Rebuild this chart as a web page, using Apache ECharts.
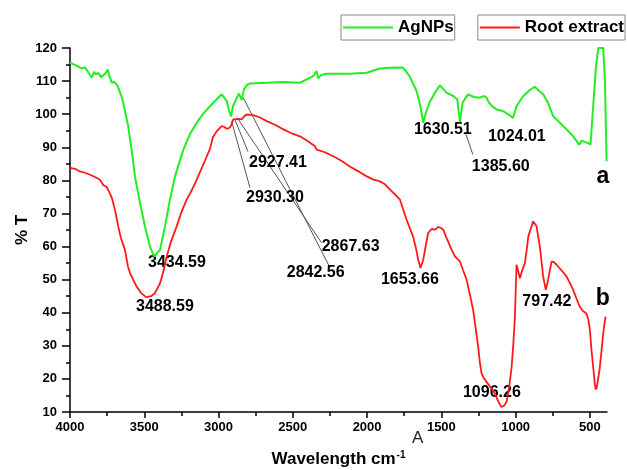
<!DOCTYPE html>
<html>
<head>
<meta charset="utf-8">
<script src="https://cdn.jsdelivr.net/npm/echarts@6/dist/echarts.min.js"></script>
<style>
  html, body { margin: 0; padding: 0; background: #fff; }
  #main { width: 627px; height: 470px; }
</style>
</head>
<body>
<div id="main"></div>
<script>
// AgNPs spectrum (curve a): wavenumber / %T
const agWave = [4000, 3973, 3944, 3919, 3899, 3879, 3854, 3838, 3825, 3810, 3791, 3778, 3764, 3746, 3734, 3719, 3704, 3686, 3674, 3663,
  3650, 3641, 3630, 3608, 3596, 3585, 3563, 3529, 3495, 3462, 3434, 3394, 3361, 3327, 3293, 3237, 3192, 3147, 3105, 3058,
  3017, 2979, 2968, 2945, 2929, 2916, 2903, 2878, 2863, 2844, 2829, 2809, 2789, 2676, 2567, 2452, 2363, 2340, 2329, 2311,
  2272, 2116, 2003, 1914, 1846, 1779, 1757, 1739, 1712, 1667, 1644, 1622, 1604, 1577, 1543, 1510, 1465, 1420, 1393, 1375,
  1357, 1320, 1281, 1241, 1214, 1196, 1185, 1160, 1128, 1084, 1052, 1017, 994, 949, 904, 871, 837, 815, 783, 747,
  702, 657, 613, 572, 554, 541, 527, 512, 496, 478, 460, 444, 411, 399, 388]
const agT = [115.6, 115.0, 114.4, 113.8, 114.2, 112.8, 111.0, 112.8, 112.0, 112.5, 111.2, 111.0, 112.2, 113.5, 111.5, 109.5, 109.8, 109.0, 108.0, 106.5,
  105.0, 104.5, 101.0, 96.4, 92.3, 89.3, 81.2, 73.2, 66.0, 60.0, 57.0, 59.0, 66.0, 74.2, 81.2, 89.3, 94.0, 97.4, 100.0, 102.4,
  104.3, 106.0, 106.3, 104.0, 101.0, 99.3, 102.4, 104.8, 106.2, 104.3, 107.5, 108.8, 109.3, 109.5, 109.7, 109.5, 111.5, 113.0, 110.8, 111.8,
  112.2, 112.2, 112.5, 113.8, 114.0, 114.1, 114.0, 113.0, 111.3, 107.0, 103.0, 97.4, 100.5, 103.8, 106.5, 108.7, 106.5, 105.5, 104.5, 97.6,
  103.5, 106.0, 105.2, 105.0, 105.5, 105.0, 103.9, 102.5, 101.4, 100.9, 100.0, 98.9, 102.4, 105.5, 107.3, 108.3, 106.8, 106.0, 103.5, 99.4,
  97.4, 95.4, 93.3, 90.8, 92.0, 92.5, 91.5, 91.3, 90.8, 102.4, 114.0, 120, 120, 110.5, 85.8]

// Root extract spectrum (curve b)
const rootWave = [4000, 3966, 3933, 3899, 3865, 3832, 3798, 3776, 3753, 3731, 3717, 3697, 3675, 3657, 3630, 3610, 3596, 3574, 3551, 3522,
  3488, 3455, 3428, 3394, 3374, 3349, 3320, 3282, 3253, 3215, 3192, 3159, 3125, 3091, 3058, 3038, 3013, 2979, 2964, 2945,
  2930, 2916, 2901, 2867, 2844, 2829, 2811, 2766, 2721, 2676, 2620, 2564, 2512, 2452, 2398, 2351, 2340, 2328, 2284, 2228,
  2176, 2116, 2062, 2003, 1961, 1914, 1880, 1846, 1813, 1779, 1759, 1734, 1712, 1690, 1671, 1656, 1640, 1622, 1604, 1589,
  1566, 1543, 1521, 1503, 1487, 1469, 1454, 1436, 1409, 1375, 1355, 1330, 1308, 1286, 1268, 1252, 1241, 1229, 1214, 1196,
  1174, 1140, 1120, 1096, 1080, 1061, 1045, 1027, 1015, 1005, 994, 985, 971, 958, 938, 924, 915, 897, 882, 870,
  859, 850, 837, 823, 815, 797, 781, 769, 758, 742, 724, 702, 681, 657, 635, 613, 588, 568, 547, 523,
  511, 500, 490, 478, 467, 462, 453, 443, 433, 423, 415, 406, 399, 394]
const rootT = [83.8, 83.5, 82.7, 82.3, 81.7, 81.0, 80.2, 78.6, 78.0, 76.0, 74.5, 71.0, 66.0, 62.5, 59.0, 54.0, 52.0, 49.9, 47.9, 46.0,
  44.7, 45.0, 45.9, 48.9, 52.0, 57.0, 61.5, 66.1, 70.0, 74.2, 76.0, 79.0, 82.5, 86.0, 89.5, 93.0, 94.8, 96.4, 96.2, 95.6,
  95.8, 96.5, 98.4, 98.6, 98.4, 99.3, 99.9, 99.7, 99.0, 97.9, 96.8, 95.4, 94.3, 93.3, 91.8, 90.3, 89.3, 89.8, 88.5, 87.3,
  86.0, 84.2, 82.8, 81.2, 80.3, 79.7, 78.8, 77.2, 75.8, 74.2, 71.5, 68.1, 65.5, 63.0, 59.5, 56.0, 53.5, 56.0, 60.5, 64.1,
  65.3, 65.1, 65.9, 65.6, 65.1, 63.0, 61.5, 59.5, 57.0, 55.5, 53.0, 50.0, 45.5, 40.8, 35.0, 29.7, 25.0, 21.6, 20.2, 19.1,
  17.8, 15.6, 13.5, 11.5, 11.8, 13.0, 17.0, 23.6, 31.0, 38.8, 54.5, 53.0, 50.4, 52.5, 55.0, 59.5, 63.0, 65.5, 67.6, 67.3,
  66.1, 63.5, 60.0, 54.5, 50.9, 46.9, 50.0, 53.0, 55.5, 55.3, 54.5, 53.3, 52.3, 50.9, 49.0, 46.9, 44.0, 41.8, 40.5, 39.8,
  38.0, 34.8, 29.0, 23.6, 18.5, 16.8, 17.5, 20.5, 23.6, 28.0, 31.7, 35.5, 37.5, 38.8]

// peak labels and where they sit (data coords)
const peakText = ['3434.59', '3488.59', '2927.41', '2930.30', '2867.63', '2842.56', '1653.66', '1630.51', '1385.60', '1024.01', '1096.26', '797.42', 'a', 'b']
const peakWave = [3280, 3361, 2600, 2620, 2111, 2346, 1712, 1490, 1100, 992, 1160, 790, 413, 413]
const peakT = [55, 41.8, 85.4, 74.8, 60, 52, 50, 95.4, 84.1, 93.3, 15.8, 43.3, 81.1, 44.4]

// leader lines: [fromWave, fromT, toWave, toT]
const leaders = [
  [2912, 97.9, 2789, 77.8],
  [2890, 98.4, 2802, 88.7],
  [2867, 98.4, 2306, 61.1],
  [2834, 105, 2250, 53.6],
  [1335, 93.9, 1288, 87.8]
]

const xMajor = [4000, 3500, 3000, 2500, 2000, 1500, 1000, 500]
const xMinor = [3750, 3250, 2750, 2250, 1750, 1250, 750]

const zip = (a, b) => a.map((v, i) => [v, b[i]])
const font = 'Liberation Sans, Arial, sans-serif'

const chart = echarts.init(document.getElementById('main'))
chart.setOption({
  animation: false,
  backgroundColor: '#fff',
  grid: { left: 70, right: 20, top: 48, bottom: 58, containLabel: false, outerBoundsMode: 'none' },
  legend: [
    {
      data: ['AgNPs'], left: 341, top: 15,
      icon: 'rect', itemWidth: 50, itemHeight: 2, padding: [4, 1, 4, 2],
      borderColor: '#888', borderWidth: 1, backgroundColor: '#fff',
      textStyle: { fontFamily: font, fontWeight: 'bold', fontSize: 17, color: '#000' }
    },
    {
      data: ['Root extract'], right: 2, top: 15,
      icon: 'rect', itemWidth: 40, itemHeight: 2, padding: [4, 1, 4, 2],
      borderColor: '#888', borderWidth: 1, backgroundColor: '#fff',
      textStyle: { fontFamily: font, fontWeight: 'bold', fontSize: 17, color: '#000' }
    }
  ],
  xAxis: [
    {
      type: 'value', inverse: true, min: 385, max: 4000,
      name: '{a|Wavelength cm}{b|-1}', nameLocation: 'middle', nameGap: 38, nameMoveOverlap: false,
      nameTextStyle: {
        rich: {
          a: { fontFamily: font, fontWeight: 'bold', fontSize: 17, color: '#000' },
          b: { fontFamily: font, fontWeight: 'bold', fontSize: 10, color: '#000', padding: [0, 0, 9, 1] }
        }
      },
      axisLine: { lineStyle: { color: '#000', width: 1.5 } },
      axisTick: { customValues: xMajor, length: 6, lineStyle: { color: '#000', width: 1.5 } },
      axisLabel: {
        customValues: xMajor, margin: 9, formatter: v => String(v),
        fontFamily: font, fontWeight: 'bold', fontSize: 13, color: '#000'
      },
      splitLine: { show: false }
    },
    {
      type: 'value', inverse: true, min: 385, max: 4000, position: 'bottom',
      axisLine: { show: true, lineStyle: { color: 'rgba(0,0,0,0)' } },
      axisTick: { show: true, customValues: xMinor, length: 4, lineStyle: { color: '#000', width: 1.5 } },
      axisLabel: { show: false },
      splitLine: { show: false }
    }
  ],
  yAxis: {
    type: 'value', min: 10, max: 120, interval: 10,
    name: '% T', nameLocation: 'middle', nameGap: 39, nameRotate: 90, nameMoveOverlap: false,
    nameTextStyle: { fontFamily: font, fontWeight: 'bold', fontSize: 17, color: '#000' },
    axisLine: { show: true, lineStyle: { color: '#000', width: 1.5 } },
    axisTick: { length: 8, lineStyle: { color: '#000', width: 1.5 } },
    minorTick: { show: true, splitNumber: 2, length: 4, lineStyle: { color: '#000', width: 1.5 } },
    axisLabel: { margin: 13, fontFamily: font, fontWeight: 'bold', fontSize: 13, color: '#000' },
    splitLine: { show: false }
  },
  graphic: [
    { type: 'text', left: 412, top: 430, style: { text: 'A', font: '17px ' + font, fill: '#222' } }
  ],
  series: [
    {
      name: 'AgNPs', type: 'line', data: zip(agWave, agT), showSymbol: false,
      lineStyle: { color: '#22ee22', width: 2 }, itemStyle: { color: '#22ee22' }
    },
    {
      name: 'Root extract', type: 'line', data: zip(rootWave, rootT), showSymbol: false,
      lineStyle: { color: '#ff1a1a', width: 1.8 }, itemStyle: { color: '#ff1a1a' }
    },
    {
      type: 'lines', coordinateSystem: 'cartesian2d', silent: true,
      data: leaders.map(l => ({ coords: [[l[0], l[1]], [l[2], l[3]]] })),
      lineStyle: { color: '#555', width: 1, opacity: 1 }
    },
    {
      type: 'scatter', symbolSize: 1, silent: true,
      itemStyle: { color: 'rgba(0,0,0,0)' },
      data: peakText.map((t, i) => ({
        name: t, value: [peakWave[i], peakT[i]],
        label: t.length === 1 ? { fontSize: 23 } : {}
      })),
      label: {
        show: true, position: 'inside', formatter: '{b}', opacity: 1,
        fontFamily: font, fontWeight: 'bold', fontSize: 16, color: '#000',
        textBorderWidth: 0
      }
    }
  ]
})
</script>
</body>
</html>
